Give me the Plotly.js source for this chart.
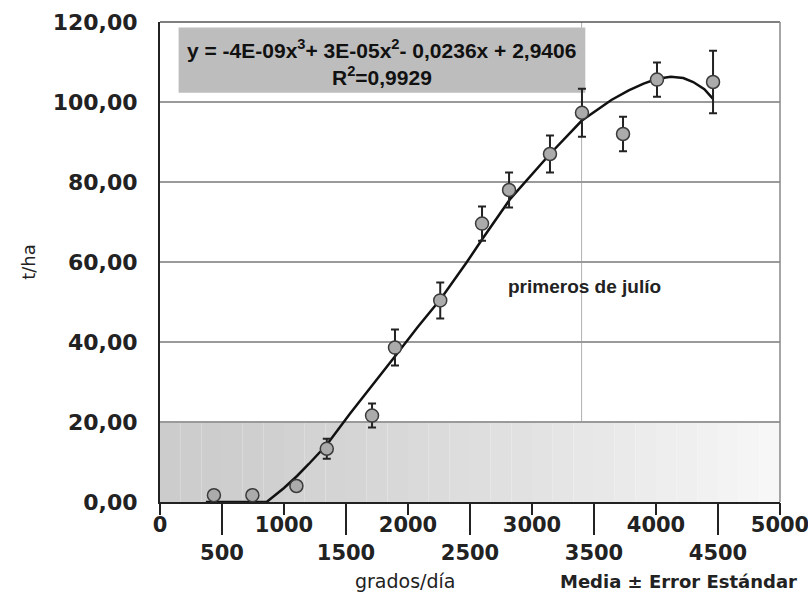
<!DOCTYPE html>
<html>
<head>
<meta charset="utf-8">
<script src="https://cdn.plot.ly/plotly-3.0.1.min.js"></script>
<style>
html,body{margin:0;padding:0;background:#fff;}
#chart{width:808px;height:606px;}
</style>
</head>
<body>
<div id="chart"></div>
<script>
// ---- data ----
const gdd     = [435, 745, 1100, 1345, 1710, 1895, 2260, 2597, 2815, 3145, 3403, 3734, 4008, 4460];
const yieldTH = [1.7, 1.7, 4.0, 13.3, 21.6, 38.6, 50.4, 69.6, 78.0, 87.0, 97.3, 92.0, 105.6, 105.0];
const stdErr  = [0.4, 0.4, 0.8, 2.5, 3.0, 4.5, 4.5, 4.3, 4.4, 4.6, 6.0, 4.3, 4.3, 7.8];

// fitted trend line as drawn in the reference
const fitX = [370, 600, 860, 1000, 1105, 1200, 1345, 1530, 1775, 1910, 2080, 2265, 2475, 2605, 2825, 3000, 3145, 3400, 3530, 3640, 3780, 3900, 4010, 4120, 4220, 4300, 4390, 4460];
const fitY = [0, 0, 0, 3.5, 6.5, 9.5, 14.3, 22, 31.5, 37, 43.8, 50.8, 60, 66, 75.8, 82, 87, 95.3, 98.2, 100.5, 102.9, 104.6, 105.8, 106.3, 106.0, 105.0, 103.2, 100.8];

const julyX = 3400;               // "primeros de julío" reference line
const xMajor = [0, 1000, 2000, 3000, 4000, 5000];
const xMajorText = ["0", "1000", "2000", "3000", "4000", "5000"];
const xMinor = [500, 1500, 2500, 3500, 4500];
const xMinorText = ["500", "1500", "2500", "3500", "4500"];
const yTicks = [0, 20, 40, 60, 80, 100, 120];

const eqLine1 = "y = -4E-09x<sup>3</sup>+ 3E-05x<sup>2</sup>- 0,0236x + 2,9406";
const eqLine2 = "R<sup>2</sup>=0,9929";

// ---- decoration: faded gray scan band at the bottom ----
const shapes = [];
const nStrips = 30;
for (let i = 0; i < nStrips; i++) {
  const t = i / (nStrips - 1);
  const c = Math.round(204 + Math.pow(t, 1.3) * (247 - 204));
  shapes.push({type:'rect', xref:'x', yref:'y', layer:'below',
    x0: i * 5000 / nStrips, x1: (i + 1) * 5000 / nStrips, y0: 0, y1: 20,
    fillcolor: `rgb(${c},${c},${c})`, line:{width:0}});
}
// equation box
shapes.push({type:'rect', xref:'x', yref:'y', layer:'below',
  x0:150, x1:3430, y0:102.3, y1:118.6, fillcolor:'#bdbdbd', line:{width:0}});
// July line
shapes.push({type:'line', xref:'x', yref:'paper', layer:'below',
  x0:julyX, x1:julyX, y0:0, y1:1, line:{color:'#b0b0b0', width:1}});
// top and right frame
shapes.push({type:'line', xref:'paper', yref:'paper', x0:0, x1:1, y0:1, y1:1, line:{color:'#555', width:1.5}});
shapes.push({type:'line', xref:'paper', yref:'paper', x0:1, x1:1, y0:0, y1:1, line:{color:'#888', width:1.5}});

const traces = [
  {
    x: fitX, y: fitY, type:'scatter', mode:'lines',
    line:{color:'#111', width:2.5}, hoverinfo:'skip', showlegend:false, cliponaxis:false
  },
  {
    x: gdd, y: yieldTH, type:'scatter', mode:'markers',
    marker:{size:13, color:'#ababab', line:{color:'#3a3a3a', width:1.5}},
    error_y:{type:'data', array:stdErr, visible:true, color:'#222', thickness:2, width:4},
    cliponaxis:false, showlegend:false
  },
  // invisible traces to activate the extra x axes (minor labels, long ticks)
  { x: xMinor, y: xMinor.map(() => null), xaxis:'x2', type:'scatter', mode:'markers', showlegend:false, hoverinfo:'skip' },
  { x: xMajor, y: xMajor.map(() => null), xaxis:'x3', type:'scatter', mode:'markers', showlegend:false, hoverinfo:'skip' }
];

const yTickFont = {family:'DejaVu Sans, Verdana, sans-serif', size:22, color:'#222', weight:'bold'};
const xTickFont = {family:'DejaVu Sans, Verdana, sans-serif', size:21, color:'#222', weight:'bold'};

const layout = {
  width:808, height:606,
  margin:{l:160, r:28, t:22, b:104},
  paper_bgcolor:'#fff', plot_bgcolor:'#fff',
  separators:',.',
  showlegend:false,
  xaxis:{
    range:[0,5000], tickvals:xMajor, ticktext:xMajorText,
    ticks:'outside', ticklen:3, tickwidth:1.5, tickcolor:'#222',
    showgrid:false, zeroline:false, showline:true, linecolor:'#222', linewidth:2,
    tickfont:xTickFont, ticklabeloverflow:'allow'
  },
  xaxis2:{
    overlaying:'x', matches:'x', side:'bottom', anchor:'y',
    range:[0,5000], tickvals:xMinor, ticktext:xMinorText,
    ticks:'outside', ticklen:32, tickwidth:1.5, tickcolor:'#222',
    showgrid:false, zeroline:false, showline:false,
    tickfont:xTickFont
  },
  xaxis3:{
    overlaying:'x', matches:'x', side:'bottom', anchor:'y',
    range:[0,5000], tickvals:xMajor, showticklabels:false,
    ticks:'outside', ticklen:12, tickwidth:1.5, tickcolor:'#222',
    showgrid:false, zeroline:false, showline:false
  },
  yaxis:{
    range:[0,120], tickvals:yTicks, tickformat:'.2f',
    showgrid:true, gridcolor:'#9a9a9a', gridwidth:1.5,
    zeroline:false, showline:true, linecolor:'#222', linewidth:2,
    ticks:'', ticklabelstandoff:16,
    tickfont:yTickFont,
    title:{text:'t/ha', font:{family:'DejaVu Sans, Verdana, sans-serif', size:18, color:'#222'}, standoff:12}
  },
  shapes: shapes,
  annotations:[
    {xref:'x', yref:'y', x:1790, y:113.3, text:eqLine1, showarrow:false,
     font:{family:'Liberation Sans Narrow, Arial Narrow, Liberation Sans, sans-serif', size:21, color:'#111', weight:'bold'}},
    {xref:'x', yref:'y', x:1790, y:106.6, text:eqLine2, showarrow:false,
     font:{family:'Liberation Sans Narrow, Arial Narrow, Liberation Sans, sans-serif', size:21, color:'#111', weight:'bold'}},
    {xref:'x', yref:'y', x:3420, y:53.8, text:'primeros de julío', showarrow:false,
     font:{family:'Liberation Sans, Arial, sans-serif', size:19, color:'#222', weight:'bold'}},
    {xref:'paper', yref:'paper', x:0.395, y:-0.165, xanchor:'center', yanchor:'middle', text:'grados/día', showarrow:false,
     font:{family:'DejaVu Sans, Verdana, sans-serif', size:19, color:'#222'}},
    {xref:'paper', yref:'paper', x:0.837, y:-0.165, xanchor:'center', yanchor:'middle', text:'Media ± Error Estándar', showarrow:false,
     font:{family:'DejaVu Sans, Verdana, sans-serif', size:18, color:'#222', weight:'bold'}}
  ]
};

Plotly.newPlot('chart', traces, layout, {staticPlot:true, displayModeBar:false});
</script>
</body>
</html>
